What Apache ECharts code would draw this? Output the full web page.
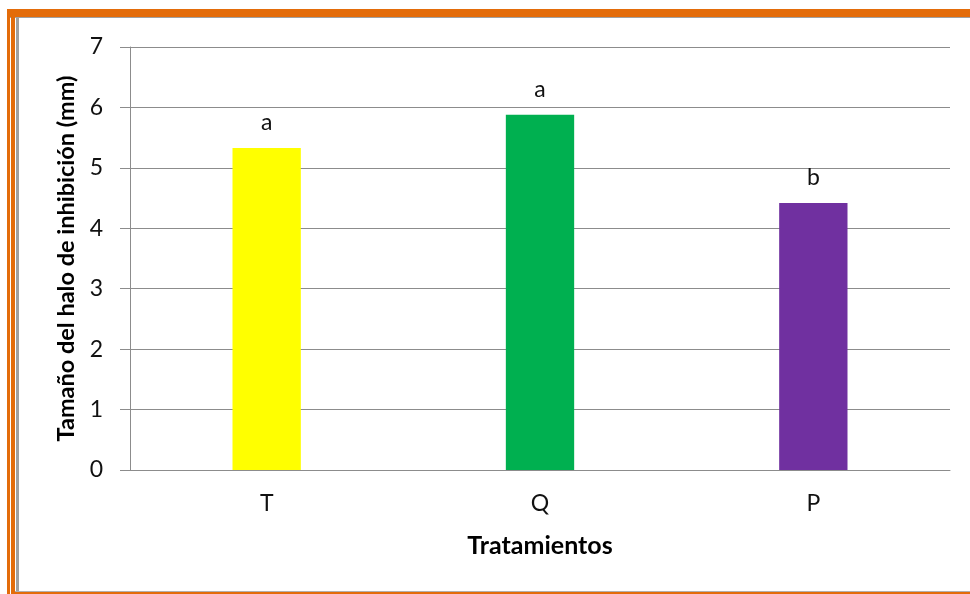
<!DOCTYPE html>
<html>
<head>
<meta charset="utf-8">
<script src="https://cdn.jsdelivr.net/npm/echarts@6/dist/echarts.min.js"></script>
<style>
  html, body { margin: 0; padding: 0; background: #fff; }
  #chart { width: 970px; height: 594px; }
</style>
</head>
<body>
<div id="chart"></div>
<script>
// datos del gráfico
var categorias = ['T', 'Q', 'P'];
var valores = [5.33, 5.88, 4.42];
var letras = ['a', 'a', 'b'];
var colores = ['#FFFF00', '#00B050', '#7030A0'];

var naranja = '#E36C0A';
var fuente = 'Lato, "Liberation Sans", sans-serif';

var chart = echarts.init(document.getElementById('chart'));

var option = {
  backgroundColor: '#fff',
  animation: false,
  grid: { left: 130, right: 20, top: 47, bottom: 124 },
  xAxis: {
    type: 'category',
    data: categorias,
    name: 'Tratamientos',
    nameLocation: 'middle',
    nameGap: 63,
    nameTextStyle: { fontFamily: fuente, fontSize: 25, fontWeight: 'bold', color: '#000' },
    axisLine: { lineStyle: { color: '#8c8c8c', width: 1 } },
    axisTick: { show: false },
    axisLabel: { fontFamily: fuente, fontSize: 23, color: '#111', margin: 22 }
  },
  yAxis: {
    type: 'value',
    min: 0,
    max: 7,
    interval: 1,
    name: 'Tamaño del halo de inhibición (mm)',
    nameLocation: 'middle',
    nameGap: 45,
    nameTextStyle: { fontFamily: fuente, fontSize: 23.5, fontWeight: 'bold', color: '#000' },
    axisLine: { show: true, lineStyle: { color: '#8c8c8c', width: 1 } },
    axisTick: { show: true, length: 10, lineStyle: { color: '#8c8c8c' } },
    axisLabel: { fontFamily: fuente, fontSize: 23, color: '#111', margin: 27 },
    splitLine: { lineStyle: { color: '#8c8c8c', width: 1 } }
  },
  series: [{
    type: 'bar',
    barWidth: '25%',
    data: valores.map(function (v, i) {
      return { value: v, itemStyle: { color: colores[i] } };
    }),
    label: {
      show: true,
      position: 'top',
      distance: 14,
      fontFamily: fuente,
      fontSize: 23,
      color: '#111',
      formatter: function (p) { return letras[p.dataIndex]; }
    }
  }],
  graphic: [
    // marco naranja
    { type: 'rect', shape: { x: 7, y: 9, width: 963, height: 8 }, style: { fill: naranja }, silent: true },
    { type: 'rect', shape: { x: 7, y: 17, width: 963, height: 1 }, style: { fill: '#a0a0a0' }, silent: true },
    { type: 'rect', shape: { x: 7, y: 9, width: 3, height: 585 }, style: { fill: naranja }, silent: true },
    { type: 'rect', shape: { x: 11, y: 9, width: 4, height: 585 }, style: { fill: naranja }, silent: true },
    { type: 'rect', shape: { x: 16, y: 17, width: 3, height: 575 }, style: { fill: '#a0a0a0' }, silent: true },
    { type: 'rect', shape: { x: 15, y: 591, width: 955, height: 1 }, style: { fill: '#b0b0b0' }, silent: true },
    { type: 'rect', shape: { x: 15, y: 592, width: 955, height: 2 }, style: { fill: naranja }, silent: true }
  ]
};

chart.setOption(option);
</script>
</body>
</html>
